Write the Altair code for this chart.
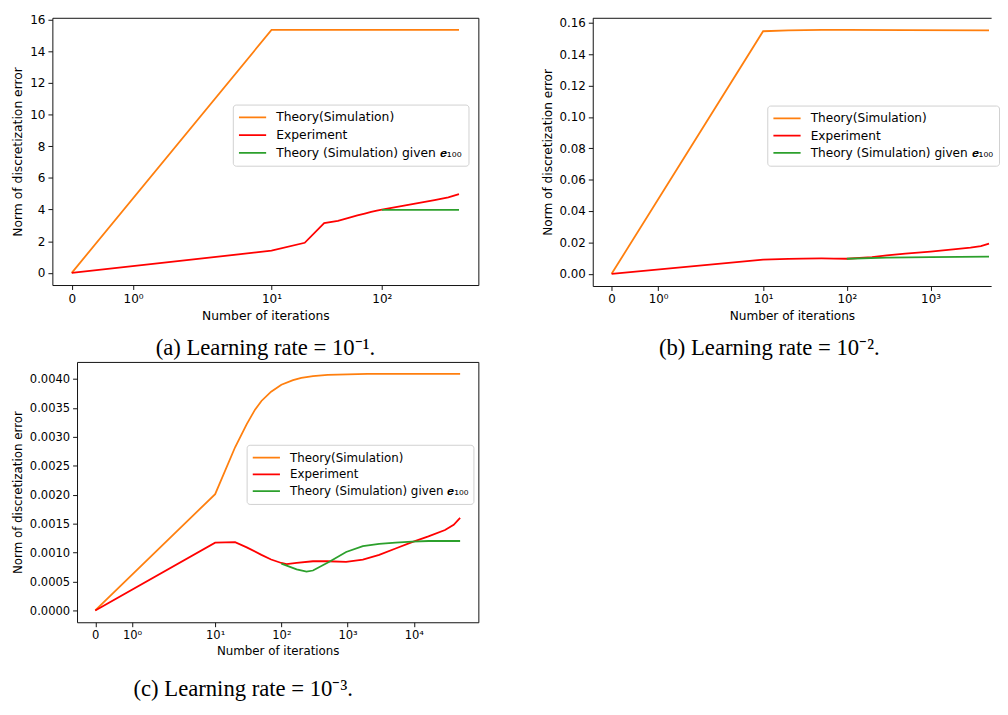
import math
import altair as alt
import pandas as pd

# ---------------- data ----------------
SERIES = ["Theory(Simulation)", "Experiment", "Theory (Simulation) given 𝒆₁₀₀"]
COLORS = ["#ff7f0e", "#ff0000", "#2ca02c"]

# (a) learning rate 1e-1
A_th_it = [0, 10, 500]
A_th = [0, 15.35, 15.35]
A_ex_it = [0, 10, 20, 30, 40, 50, 60, 70, 80, 90, 100, 150, 200, 300, 400, 500]
A_ex = [0, 1.40, 1.90, 3.14, 3.28, 3.48, 3.63, 3.75, 3.85, 3.93, 4.00, 4.22, 4.38, 4.60, 4.77, 4.98]
A_gt_it = [100, 500]
A_gt = [3.98, 3.98]

# (b) learning rate 1e-2
B_th_it = [0, 10, 20, 50, 100, 500, 5000]
B_th = [0, 0.1546, 0.1551, 0.1554, 0.1554, 0.1553, 0.1551]
B_ex_it = [0, 10, 20, 30, 50, 70, 100, 200, 300, 500, 1000, 2000, 3000, 4000, 5000]
B_ex = [0, 0.0090, 0.0095, 0.0097, 0.0098, 0.0097, 0.0096, 0.0106, 0.0117, 0.0129, 0.0142, 0.0157, 0.0167, 0.0176, 0.0192]
B_gt_it = [100, 300, 1000, 5000]
B_gt = [0.0096, 0.0103, 0.0107, 0.0109]

# (c) learning rate 1e-3
C_th_it = [0, 10, 20, 30, 40, 50, 70, 100, 150, 200, 300, 500, 1000, 2000, 50000]
C_th = [0, 0.00201, 0.00282, 0.00322, 0.00347, 0.00362, 0.00378, 0.00390, 0.00398, 0.00402,
        0.00405, 0.00407, 0.00408, 0.00409, 0.00409]
C_ex_it = [0, 10, 20, 30, 50, 70, 100, 120, 170, 300, 500, 950, 1700, 3000, 5300, 9400,
           16600, 29600, 40000, 50000]
C_ex = [0, 0.00117, 0.00118, 0.00109, 0.00096, 0.00088, 0.00082, 0.00080, 0.00082, 0.00085,
        0.00085, 0.00084, 0.00088, 0.00096, 0.00107, 0.00118, 0.00128, 0.00139, 0.00148, 0.00160]
C_gt_it = [100, 170, 240, 300, 530, 950, 1700, 3000, 5300, 9400, 16600, 50000]
C_gt = [0.00081, 0.00071, 0.00067, 0.00069, 0.00084, 0.00101, 0.00111, 0.00115, 0.00117,
        0.00119, 0.00120, 0.00120]

SUP = {"0": "⁰", "1": "¹", "2": "²", "3": "³", "4": "⁴"}

# matplotlib-style symlog (linthresh=2, linscale=1)
LIN = 2.0
LSC = 1.0 / (1.0 - 0.1)


def symlog(x):
    return x / LIN * LSC if x <= LIN else LSC + math.log10(x / LIN)


CALC = f"datum.it <= {LIN} ? datum.it / {LIN} * {LSC} : {LSC} + log(datum.it / {LIN}) / LN10"

FONT = "DejaVu Sans"
FRAME = "#111111"


def panel(th_it, th, ex_it, ex, gt_it, gt, xmax, max_dec, yticks, yfmt, w, h,
          lx, ly, caption, cap_dx, cap_off, fs, rowpad, cut_w=None):
    rows = []
    for s, its, vs in zip(SERIES, [th_it, ex_it, gt_it], [th, ex, gt]):
        for i, v in zip(its, vs):
            rows.append({"it": i, "v": v, "s": s})
    df = pd.DataFrame(rows)
    T = symlog(xmax)
    xdom = [-0.05 * T, 1.05 * T]
    width = w
    if cut_w is not None:  # panel cut off at the page edge
        xdom[1] = xdom[0] + 1.1 * T * cut_w / w
        width = cut_w
    ymax = max(th + ex + gt)
    ydom = [-0.05 * ymax, 1.05 * ymax]
    tick_vals = [0] + [10 ** k for k in range(0, max_dec + 1)]
    tick_labels = ["0"] + ["10" + SUP[str(k)] for k in range(0, max_dec + 1)]
    tick_pos = [symlog(t) for t in tick_vals]
    expr = f"'{tick_labels[-1]}'"
    for i in range(len(tick_pos) - 2, -1, -1):
        mid = (tick_pos[i] + tick_pos[i + 1]) / 2
        expr = f"datum.value < {mid} ? '{tick_labels[i]}' : " + expr
    xscale = alt.Scale(domain=xdom, nice=False, zero=False)
    yscale = alt.Scale(domain=ydom, nice=False, zero=False)
    base = alt.Chart(df).transform_calculate(px=CALC)
    layers = []
    for s in SERIES:
        layers.append(
            base.transform_filter(alt.datum.s == s).mark_line(strokeWidth=1.8).encode(
                x=alt.X("px:Q", scale=xscale,
                        axis=alt.Axis(values=tick_pos, labelExpr=expr,
                                      title="Number of iterations", titleFontSize=fs,
                                      labelFontSize=fs - 0.3)),
                y=alt.Y("v:Q", scale=yscale,
                        axis=alt.Axis(values=yticks, format=yfmt,
                                      title="Norm of discretization error",
                                      titleFontSize=fs, labelFontSize=fs - 0.3)),
                color=alt.Color("s:N", scale=alt.Scale(domain=SERIES, range=COLORS),
                                legend=alt.Legend(
                                    title=None, orient="none", legendX=lx, legendY=ly,
                                    symbolType="stroke", symbolStrokeWidth=1.8,
                                    symbolSize=760, clipHeight=16, rowPadding=rowpad,
                                    labelFont=FONT, labelFontSize=fs, labelColor="black",
                                    labelOffset=9, labelLimit=500, fillColor="white",
                                    strokeColor="#d0d0d0", padding=5, cornerRadius=3)),
            )
        )
    props = dict(
        width=width, height=h,
        title=alt.TitleParams(caption, orient="bottom", anchor="middle", frame="group",
                              font="Liberation Serif", fontSize=23, fontWeight="normal",
                              color="black", offset=cap_off, dx=cap_dx),
    )
    if cut_w is not None:
        # frame drawn on top, bottom and left only (right edge lies beyond the page)
        props["view"] = alt.ViewBackground(stroke=FRAME, strokeWidth=1,
                                           strokeDash=[width, h, width + h + 1])
    return alt.layer(*layers).properties(**props)


pa = panel(A_th_it, A_th, A_ex_it, A_ex, A_gt_it, A_gt, 500, 2,
           [0, 2, 4, 6, 8, 10, 12, 14, 16], "d", 432, 271, 183, 88,
           "(a) Learning rate = 10⁻¹.", 0, 16, 12.5, 2)
pb = panel(B_th_it, B_th, B_ex_it, B_ex, B_gt_it, B_gt, 5000, 3,
           [0, 0.02, 0.04, 0.06, 0.08, 0.10, 0.12, 0.14, 0.16], ".2f", 421, 272, 177, 89,
           "(b) Learning rate = 10⁻².", -23, 16, 12.3, 1.5, cut_w=404)
pc = panel(C_th_it, C_th, C_ex_it, C_ex, C_gt_it, C_gt, 50000, 4,
           [0, 0.0005, 0.001, 0.0015, 0.002, 0.0025, 0.003, 0.0035, 0.004], ".4f", 407, 264,
           172, 84, "(c) Learning rate = 10⁻³.", -35, 22, 12, 1)

# empty, invisible spacer that shifts panel (c) to the right of panel (a)
spacer = alt.Chart(pd.DataFrame({"z": [0]})).mark_point(opacity=0).encode(
    x=alt.X("z:Q", axis=None), y=alt.Y("z:Q", axis=None)
).properties(width=25, height=10, view=alt.ViewBackground(strokeOpacity=0))

top = alt.hconcat(pa, pb, spacing=62).resolve_scale(color="independent")
bottom = alt.hconcat(spacer, pc, spacing=0, bounds="flush").resolve_scale(color="independent")

chart = alt.vconcat(
    top, bottom, spacing=0,
).resolve_scale(
    color="independent"
).properties(
    padding={"left": 3, "top": 0, "right": 0, "bottom": 0}
).configure_view(
    stroke=FRAME, strokeWidth=1
).configure_axis(
    domain=False, grid=False, tickColor=FRAME, tickSize=4.5, tickWidth=1,
    labelFont=FONT, labelColor="black", labelPadding=3,
    titleFont=FONT, titleColor="black", titleFontWeight="normal", titlePadding=5,
)

chart.save("out.html", embed_options={"renderer": "svg", "actions": False})
